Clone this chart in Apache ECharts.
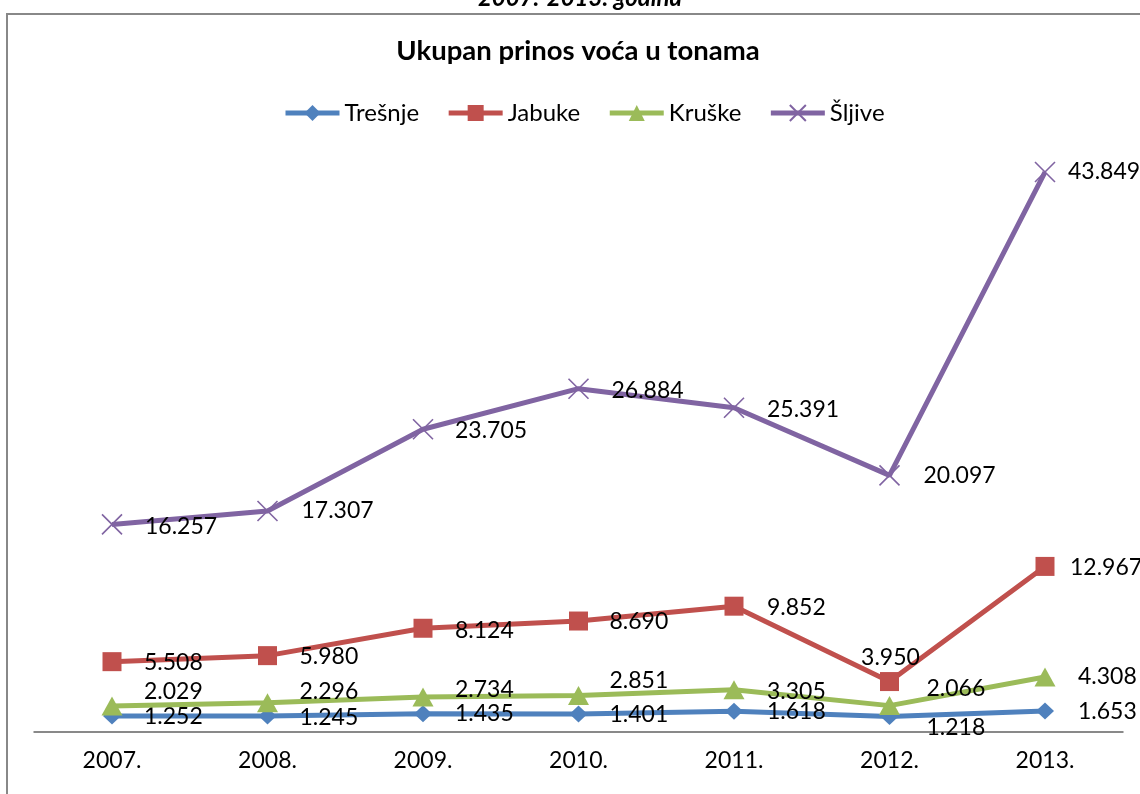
<!DOCTYPE html>
<html>
<head>
<meta charset="utf-8">
<script src="https://cdn.jsdelivr.net/npm/echarts@6/dist/echarts.min.js"></script>
<style>
html,body{margin:0;padding:0;background:#fff;}
#chart{width:1140px;height:794px;}
</style>
</head>
<body>
<div id="chart"></div>
<script>
const categories = ['2007.', '2008.', '2009.', '2010.', '2011.', '2012.', '2013.'];
const tresnje = [1.252, 1.245, 1.435, 1.401, 1.618, 1.218, 1.653];
const jabuke  = [5.508, 5.980, 8.124, 8.690, 9.852, 3.950, 12.967];
const kruske  = [2.029, 2.296, 2.734, 2.851, 3.305, 2.066, 4.308];
const sljive  = [16.257, 17.307, 23.705, 26.884, 25.391, 20.097, 43.849];
const seriesNames = ['Trešnje', 'Jabuke', 'Kruške', 'Šljive'];
const titleText = 'Ukupan prinos voća u tonama';
const subtitleText = '2007.-2013. godina';

// label placement (style only, kept separate from data)
const labelOffsets = {
  'Trešnje': [[32,1],[32,1],[32,0],[31,0],[33,0],[37,11],[33,1]],
  'Jabuke':  [[32,1],[32,1],[32,2],[31,1],[33,1],[1,-24,'center'],[25,1]],
  'Kruške':  [[32,-15],[32,-11],[32,-8],[31,-15],[33,2],[37,-17],[33,0]],
  'Šljive':  [[33,2],[34,0],[32,1],[33,2],[33,2],[34,0],[23,0]]
};

const colors = ['#4F81BD', '#C0504D', '#9BBB59', '#8064A2'];
const symbols = ['diamond', 'rect', 'triangle', 'path://M0,0L10,10M10,0L0,10'];
const symbolSizes = [[18,17], 19, [21,19], 20];
const values = [tresnje, jabuke, kruske, sljive];
const FONT = 'Lato, "Open Sans", sans-serif';

function fmt(v) { return v.toFixed(3); }

const series = seriesNames.map((name, si) => ({
  name: name,
  type: 'line',
  data: values[si].map((v, i) => {
    const o = labelOffsets[name][i];
    return {
      value: v,
      label: { offset: [o[0], o[1]], align: o[2] || 'left' }
    };
  }),
  symbol: symbols[si],
  symbolSize: symbolSizes[si],
  lineStyle: { color: colors[si], width: 5 },
  itemStyle: si === 3
    ? { color: colors[si], borderColor: colors[si], borderWidth: 1.6 }
    : { color: colors[si], borderWidth: 0 },
  label: {
    show: true,
    position: 'inside',
    align: 'left',
    verticalAlign: 'middle',
    color: '#000',
    fontFamily: FONT,
    fontSize: 23,
    formatter: p => fmt(p.value)
  },
  z: 2 + si,
  emphasis: { disabled: true },
  animation: false
}));

const chart = echarts.init(document.getElementById('chart'));
chart.setOption({
  backgroundColor: '#ffffff',
  animation: false,
  graphic: [
    {
      type: 'rect',
      shape: { x: 7, y: 14, width: 1400, height: 1000 },
      style: { fill: 'none', stroke: '#888888', lineWidth: 2 },
      silent: true, z: -1
    },
    {
      type: 'text',
      x: 580, y: -1.5,
      style: {
        text: subtitleText,
        fontFamily: FONT, fontSize: 24, fontWeight: 'bold', fontStyle: 'italic',
        fill: '#000', align: 'center', verticalAlign: 'middle'
      }
    },
    {
      type: 'text',
      x: 578, y: 51.5,
      style: {
        text: titleText,
        fontFamily: FONT, fontSize: 27.5, fontWeight: 'bold',
        fill: '#000', align: 'center', verticalAlign: 'middle'
      }
    }
  ],
  legend: {
    data: seriesNames,
    left: 278,
    top: 96,
    itemWidth: 54,
    itemHeight: 20,
    itemGap: 27,
    lineStyle: { width: 5 },
    textStyle: { fontFamily: FONT, fontSize: 24, color: '#000' },
    selectedMode: false
  },
  grid: { left: 34.25, right: 17.25, top: 93.5, bottom: 62, containLabel: false },
  xAxis: {
    type: 'category',
    data: categories,
    boundaryGap: true,
    axisLine: { lineStyle: { color: '#898989', width: 2 } },
    axisTick: { show: false },
    axisLabel: { fontFamily: FONT, fontSize: 23, color: '#000', margin: 17 },
    splitLine: { show: false }
  },
  yAxis: {
    type: 'value',
    min: 0, max: 50, interval: 10,
    show: false,
    splitLine: { show: false }
  },
  series: series
});
</script>
</body>
</html>
